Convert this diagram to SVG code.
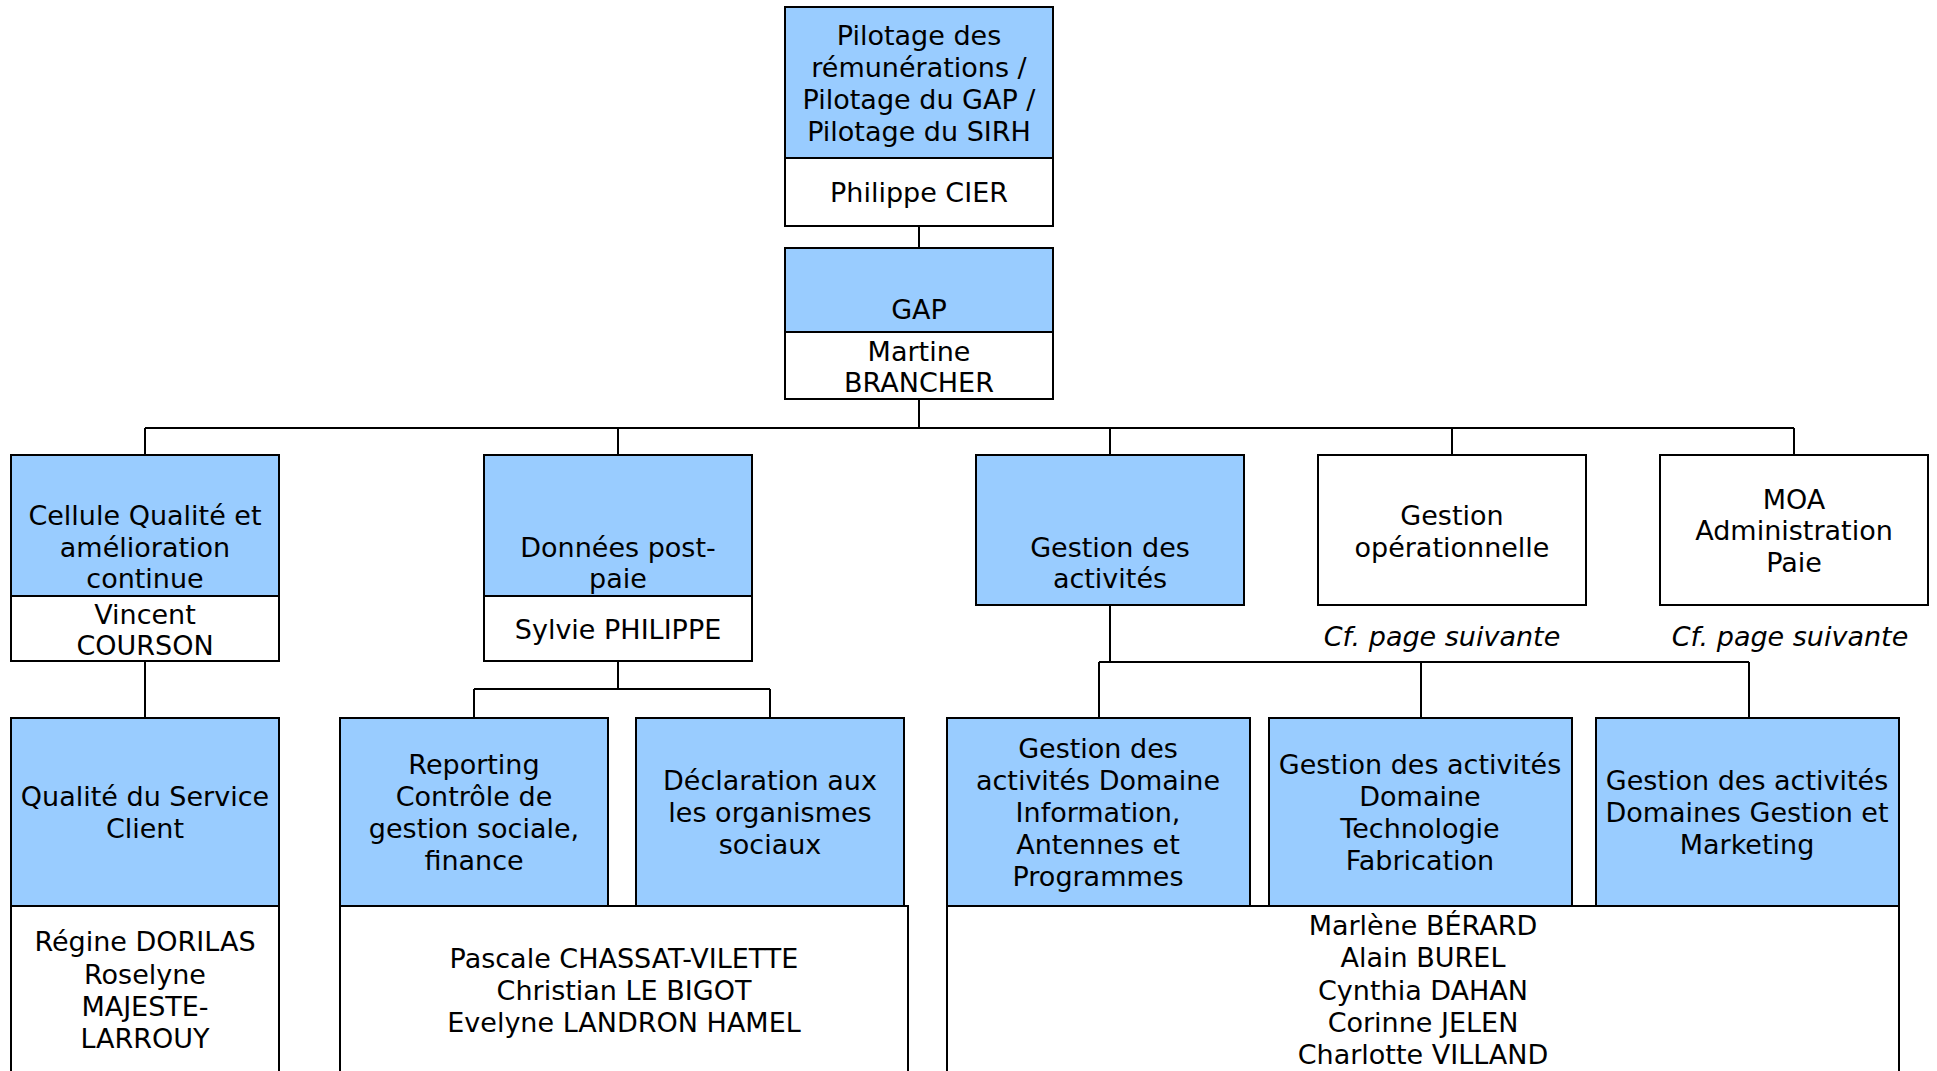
<svg xmlns="http://www.w3.org/2000/svg" width="1937" height="1071" viewBox="0 0 1937 1071">
<style>
.b{fill:#99CCFF;stroke:#000;stroke-width:2}
.w{fill:#fff;stroke:#000;stroke-width:2}
.c{fill:none;stroke:#000;stroke-width:2}
text{font-family:"DejaVu Sans","Verdana",sans-serif;font-size:27px;fill:#000;text-anchor:middle}
.i{font-style:italic}
</style>
<rect width="1937" height="1071" fill="#fff"/>
<g id="connectors">
<path class="c" d="M919 226V248M919 399V428M145 428H1794M145 428V455M618 428V455M1110 428V455M1452 428V455M1794 428V455"/>
<path class="c" d="M145 661V718"/>
<path class="c" d="M618 661V689M474 689H770M474 689V718M770 689V718"/>
<path class="c" d="M1110 605V662M1099 662H1749M1099 662V718M1421 662V718M1749 662V718"/>
</g>
<g id="n-pilotage">
<rect class="b" x="785" y="7" width="268" height="151"/>
<rect class="w" x="785" y="158" width="268" height="68"/>
<text x="919" y="45">Pilotage des</text>
<text x="919" y="77">rémunérations /</text>
<text x="919" y="109">Pilotage du GAP /</text>
<text x="919" y="141">Pilotage du SIRH</text>
<text x="919" y="202">Philippe CIER</text>
</g>
<g id="n-gap">
<rect class="b" x="785" y="248" width="268" height="84"/>
<rect class="w" x="785" y="332" width="268" height="67"/>
<text x="919" y="319">GAP</text>
<text x="919" y="361">Martine</text>
<text x="919" y="392">BRANCHER</text>
</g>
<g id="n-cellule">
<rect class="b" x="11" y="455" width="268" height="141"/>
<rect class="w" x="11" y="596" width="268" height="65"/>
<text x="145" y="525">Cellule Qualité et</text>
<text x="145" y="557">amélioration</text>
<text x="145" y="588">continue</text>
<text x="145" y="624">Vincent</text>
<text x="145" y="655">COURSON</text>
</g>
<g id="n-donnees">
<rect class="b" x="484" y="455" width="268" height="141"/>
<rect class="w" x="484" y="596" width="268" height="65"/>
<text x="618" y="557">Données post-</text>
<text x="618" y="588">paie</text>
<text x="618" y="639">Sylvie PHILIPPE</text>
</g>
<g id="n-gestion-activites">
<rect class="b" x="976" y="455" width="268" height="150"/>
<text x="1110" y="557">Gestion des</text>
<text x="1110" y="588">activités</text>
</g>
<g id="n-gestion-op">
<rect class="w" x="1318" y="455" width="268" height="150"/>
<text x="1452" y="525">Gestion</text>
<text x="1452" y="557">opérationnelle</text>
<text class="i" x="1442" y="646">Cf. page suivante</text>
</g>
<g id="n-moa">
<rect class="w" x="1660" y="455" width="268" height="150"/>
<text x="1794" y="509">MOA</text>
<text x="1794" y="540">Administration</text>
<text x="1794" y="572">Paie</text>
<text class="i" x="1790" y="646">Cf. page suivante</text>
</g>
<g id="n-qualite">
<rect class="b" x="11" y="718" width="268" height="188"/>
<rect class="w" x="11" y="906" width="268" height="180"/>
<text x="145" y="806">Qualité du Service</text>
<text x="145" y="838">Client</text>
<text x="145" y="951">Régine DORILAS</text>
<text x="145" y="984">Roselyne</text>
<text x="145" y="1016">MAJESTE-</text>
<text x="145" y="1048">LARROUY</text>
</g>
<g id="n-reporting">
<rect class="b" x="340" y="718" width="268" height="188"/>
<text x="474" y="774">Reporting</text>
<text x="474" y="806">Contrôle de</text>
<text x="474" y="838">gestion sociale,</text>
<text x="474" y="870">finance</text>
</g>
<g id="n-declaration">
<rect class="b" x="636" y="718" width="268" height="188"/>
<text x="770" y="790">Déclaration aux</text>
<text x="770" y="822">les organismes</text>
<text x="770" y="854">sociaux</text>
</g>
<g id="n-equipe-donnees">
<rect class="w" x="340" y="906" width="568" height="180"/>
<text x="624" y="968">Pascale CHASSAT-VILETTE</text>
<text x="624" y="1000">Christian LE BIGOT</text>
<text x="624" y="1032">Evelyne LANDRON HAMEL</text>
</g>
<g id="n-info">
<rect class="b" x="947" y="718" width="303" height="188"/>
<text x="1098" y="758">Gestion des</text>
<text x="1098" y="790">activités Domaine</text>
<text x="1098" y="822">Information,</text>
<text x="1098" y="854">Antennes et</text>
<text x="1098" y="886">Programmes</text>
</g>
<g id="n-techno">
<rect class="b" x="1269" y="718" width="303" height="188"/>
<text x="1420" y="774">Gestion des activités</text>
<text x="1420" y="806">Domaine</text>
<text x="1420" y="838">Technologie</text>
<text x="1420" y="870">Fabrication</text>
</g>
<g id="n-marketing">
<rect class="b" x="1596" y="718" width="303" height="188"/>
<text x="1747" y="790">Gestion des activités</text>
<text x="1747" y="822">Domaines Gestion et</text>
<text x="1747" y="854">Marketing</text>
</g>
<g id="n-equipe-activites">
<rect class="w" x="947" y="906" width="952" height="180"/>
<text x="1423" y="935">Marlène BÉRARD</text>
<text x="1423" y="967">Alain BUREL</text>
<text x="1423" y="1000">Cynthia DAHAN</text>
<text x="1423" y="1032">Corinne JELEN</text>
<text x="1423" y="1064">Charlotte VILLAND</text>
</g>
</svg>
